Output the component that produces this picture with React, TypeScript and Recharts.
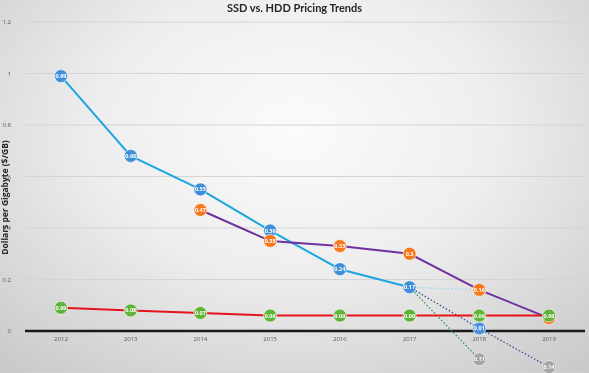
import { CartesianGrid, Line, LineChart, ReferenceDot, ReferenceLine, XAxis, YAxis } from "recharts";

const years = [2012, 2013, 2014, 2015, 2016, 2017, 2018, 2019];
const ssd = [0.99, 0.68, 0.55, 0.39, 0.24, 0.17, null, null];
const hybrid = [null, null, 0.47, 0.35, 0.33, 0.3, 0.16, 0.05];
const hdd = [0.09, 0.08, 0.07, 0.06, 0.06, 0.06, 0.06, 0.06];
const projFlat = [null, null, null, null, null, 0.17, 0.16, null];
const projLinear = [null, null, null, null, null, 0.17, 0.01, -0.14];
const projSteep = [null, null, null, null, null, 0.17, -0.11, null];
const yTicks = [0, 0.2, 0.4, 0.6, 0.8, 1, 1.2];

const data = years.map((year, i) => ({
  year,
  ssd: ssd[i],
  hybrid: hybrid[i],
  hdd: hdd[i],
  projFlat: projFlat[i],
  projLinear: projLinear[i],
  projSteep: projSteep[i],
}));

const W = 589;
const H = 373;
const FONT = "'Open Sans', sans-serif";

// marker with the value written inside it
const makeDot = (fill: string, skip: number[] = []) => (props: any) => {
  const { cx, cy, value, index } = props;
  if (value == null || skip.includes(index) || cx == null || cy == null) {
    return <g key={`d-${index}`} />;
  }
  const v = Array.isArray(value) ? value[1] : value;
  const color = v < 0 ? "#a5a5a5" : fill;
  return (
    <g key={`d-${index}`}>
      <circle cx={cx} cy={cy} r={6.5} fill={color} stroke="#ffffff" strokeWidth={0.6} />
      <text x={cx} y={cy + 2} textAnchor="middle" fontSize={5.5} fontWeight={700} fill="#ffffff" fontFamily={FONT}>
        {String(Math.abs(v))}
      </text>
    </g>
  );
};

const App = () => {
  return (
    <div
      style={{
        position: "fixed",
        left: 0,
        top: 0,
        width: W,
        height: H,
        overflow: "hidden",
        background:
          "radial-gradient(ellipse 75% 85% at 50% 35%, #fbfbfb 0%, #eeeeee 45%, #d6d6d6 80%, #c9c9c9 100%)",
      }}
    >
      <div
        style={{
          position: "absolute",
          top: 1,
          left: 0,
          width: W,
          textAlign: "center",
          fontFamily: "Lato, 'Open Sans', sans-serif",
          fontWeight: 700,
          fontSize: 11,
          color: "#262626",
        }}
      >
        SSD vs. HDD Pricing Trends
      </div>
      <LineChart width={W} height={H} data={data} margin={{ top: 22, right: 4, bottom: 0, left: 0 }}>
        <CartesianGrid horizontal vertical={false} stroke="#d4d4d4" strokeWidth={1} />
        <XAxis dataKey="year" type="number" domain={[2011.484, 2019.516]} ticks={years} height={0} hide />
        <YAxis
          type="number"
          domain={[-0.163, 1.2]}
          ticks={yTicks}
          width={25}
          axisLine={false}
          tickLine={false}
          tickMargin={8}
          tick={{ fontSize: 6, fill: "#595959", fontFamily: FONT }}
          label={{
            value: "Dollars per Gigabyte ($/GB)",
            angle: -90,
            position: "insideLeft",
            dx: 0,
            style: { fontSize: 8.5, fontWeight: 700, fill: "#262626", fontFamily: FONT, textAnchor: "middle" },
          }}
        />
        <ReferenceLine y={0} stroke="#1a1a1a" strokeWidth={2.5} />
        {years.map((y) => (
          <ReferenceDot
            key={y}
            x={y}
            y={0}
            r={0}
            fill="none"
            stroke="none"
            label={{ value: String(y), position: "bottom", offset: 6, fontSize: 6, fill: "#595959", fontFamily: FONT }}
          />
        ))}
        <Line
          dataKey="projFlat"
          stroke="#9fd6ea"
          strokeWidth={1.3}
          strokeDasharray="1.5 2"
          dot={makeDot("#b9e2f2", [5])}
          isAnimationActive={false}
        />
        <Line
          dataKey="projSteep"
          stroke="#2f9e52"
          strokeWidth={1.3}
          strokeDasharray="1.5 2"
          dot={makeDot("#a5a5a5", [5])}
          isAnimationActive={false}
        />
        <Line
          dataKey="projLinear"
          stroke="#3b4f9c"
          strokeWidth={1.3}
          strokeDasharray="1.5 2"
          dot={makeDot("#4a92db", [5])}
          isAnimationActive={false}
        />
        <Line dataKey="ssd" stroke="#1ba6e0" strokeWidth={2} dot={makeDot("#3f8fd8")} isAnimationActive={false} />
        <Line dataKey="hybrid" stroke="#7030a0" strokeWidth={2} dot={makeDot("#f57a1f")} isAnimationActive={false} />
        <Line dataKey="hdd" stroke="#e3141c" strokeWidth={2} dot={makeDot("#5fb336")} isAnimationActive={false} />
      </LineChart>
    </div>
  );
};

export default App;
